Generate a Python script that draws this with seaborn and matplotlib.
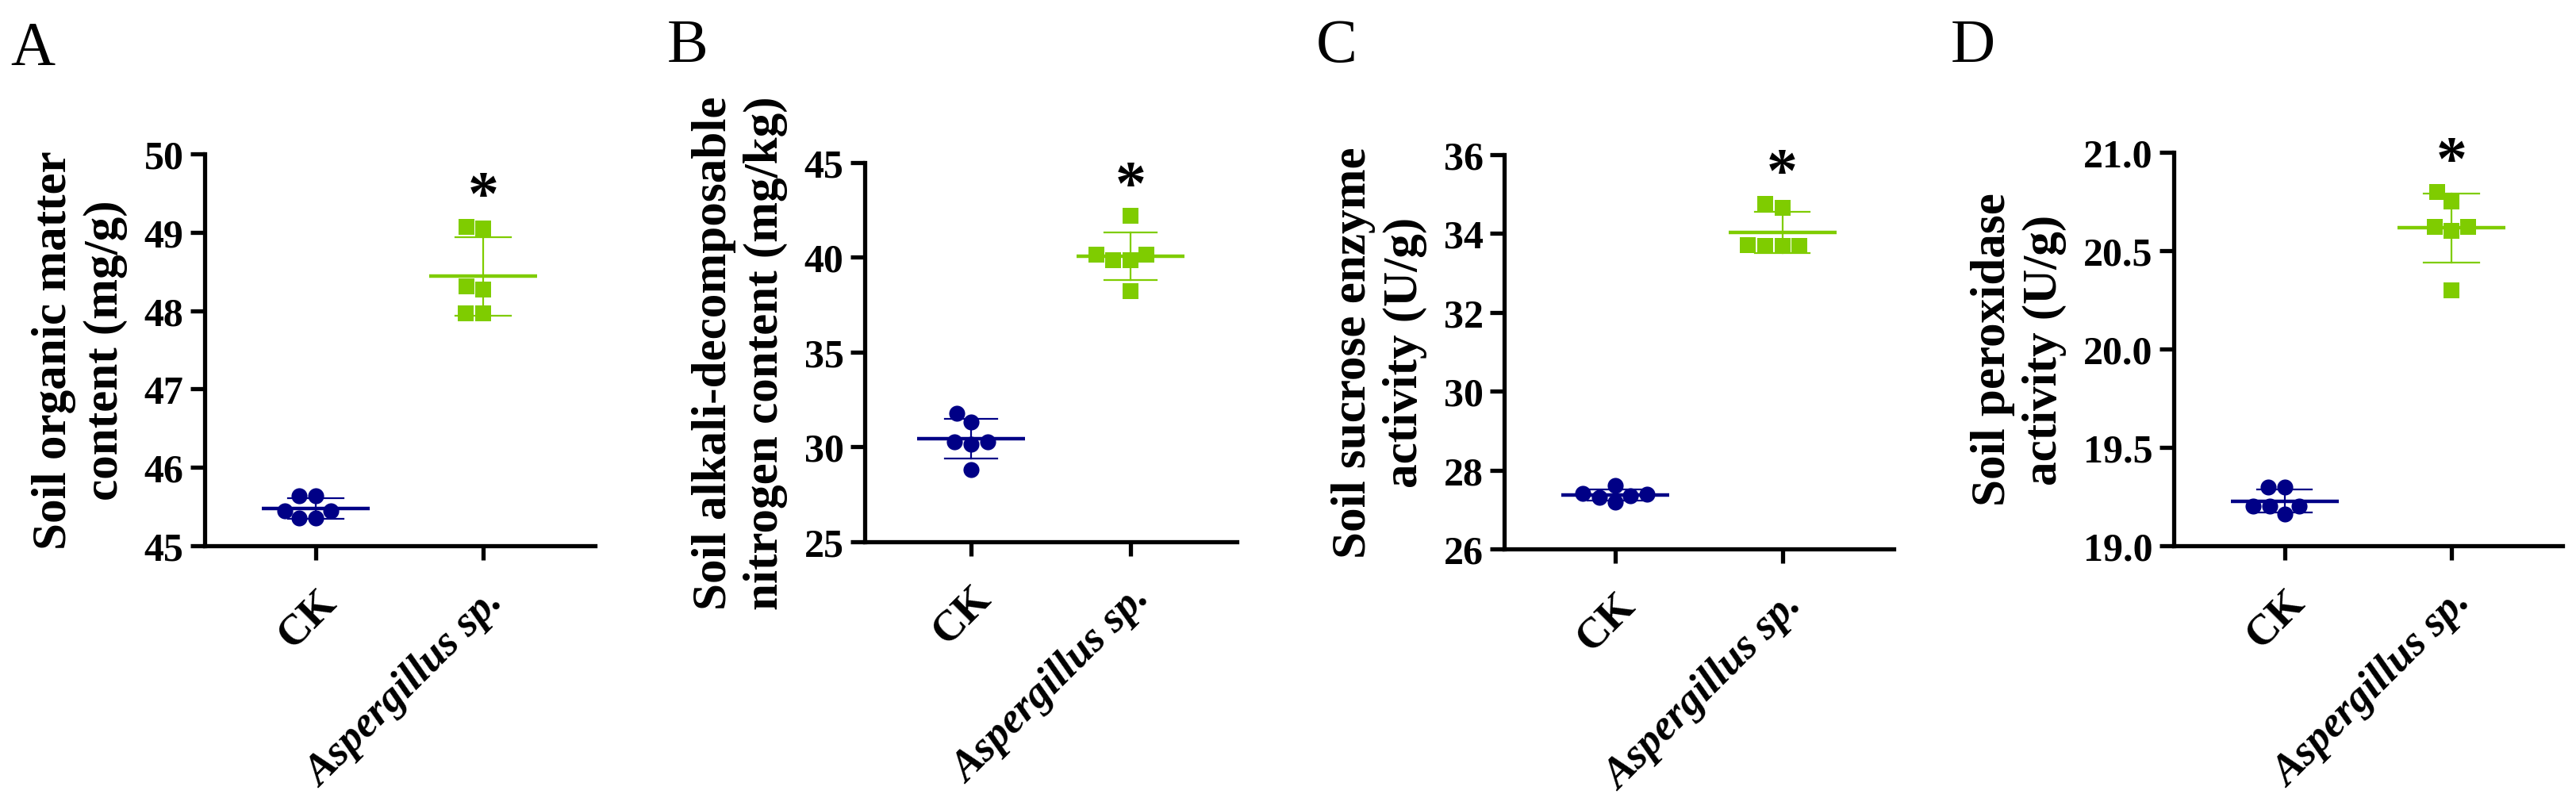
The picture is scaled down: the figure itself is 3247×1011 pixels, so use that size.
import pandas as pd
import matplotlib
matplotlib.use('Agg')
import matplotlib.pyplot as plt
import seaborn as sns

groups = ['CK', 'Aspergillus sp.']

# A: soil organic matter content (mg/g)
om_ck = [45.64, 45.45, 45.45, 45.64, 45.35, 45.35]
om_asp = [49.05, 49.07, 48.27, 48.31, 47.97, 47.97]
# B: alkali-decomposable nitrogen (mg/kg)
an_ck = [31.32, 31.78, 30.29, 30.29, 30.15, 28.80]
an_asp = [40.14, 40.14, 42.18, 39.85, 39.85, 38.21]
# C: sucrose enzyme activity (U/g)
suc_ck = [27.41, 27.38, 27.35, 27.61, 27.31, 27.18]
suc_asp = [34.66, 34.76, 33.70, 33.68, 33.68, 33.68]
# D: peroxidase activity (U/g)
pod_ck = [19.20, 19.30, 19.20, 19.30, 19.20, 19.16]
pod_asp = [20.62, 20.75, 20.62, 20.80, 20.60, 20.30]

letters = ['A', 'B', 'C', 'D']
ylabels = ['Soil organic matter\ncontent (mg/g)',
           'Soil alkali-decomposable\nnitrogen content (mg/kg)',
           'Soil sucrose enzyme\nactivity (U/g)',
           'Soil peroxidase\nactivity (U/g)']
yticks_a = [45, 46, 47, 48, 49, 50]
yticks_b = [25, 30, 35, 40, 45]
yticks_c = [26, 28, 30, 32, 34, 36]
yticks_d = [19.0, 19.5, 20.0, 20.5, 21.0]
tick_fmt = ['%d', '%d', '%d', '%.1f']

ck_color = '#000086'
asp_color = '#7FCC00'

W, H = 3247, 1012
# axes boxes in pixels: left, top, right, bottom
boxes = [(258, 195, 750, 689), (1090, 206, 1559, 684),
         (1896, 196, 2387, 693), (2740, 193, 3230, 689)]
letter_xy = [(13, 81), (841, 78), (1659, 78), (2459, 78)]

plt.rcParams['font.family'] = ['Liberation Serif', 'DejaVu Serif']
plt.rcParams['font.weight'] = 'bold'
plt.rcParams['axes.linewidth'] = 3.8


def scatter_panel(ax, ck, asp, ylabel, yticks, fmt):
    df = pd.DataFrame({'group': [groups[0]] * len(ck) + [groups[1]] * len(asp),
                       'value': ck + asp})
    pal = {groups[0]: ck_color, groups[1]: asp_color}
    # mean line + SD error bars
    sns.pointplot(data=df, x='group', y='value', hue='group', order=groups,
                  hue_order=groups, palette=pal, errorbar='sd', capsize=0.33,
                  markers='_', linestyles='none', markersize=98,
                  markeredgewidth=3.2, err_kws={'linewidth': 1.6},
                  legend=False, ax=ax)
    sns.swarmplot(data=df[df['group'] == groups[0]], x='group', y='value',
                  order=groups, color=ck_color, marker='o', size=14.5,
                  linewidth=0, zorder=3, ax=ax)
    sns.swarmplot(data=df[df['group'] == groups[1]], x='group', y='value',
                  order=groups, color=asp_color, marker='s', size=15,
                  linewidth=0, zorder=3, ax=ax)
    ax.annotate('*', xy=(1, max(asp)), xytext=(0, 26), textcoords='offset points',
                ha='center', va='center', fontsize=56, fontweight='bold')

    ax.set_ylim(yticks[0], yticks[-1])
    ax.set_yticks(yticks)
    ax.set_yticklabels([fmt % t for t in yticks])
    ax.set_xlim(-0.665, 1.667)
    ax.set_xticks([0, 1])
    ax.set_xticklabels(groups, rotation=45, ha='right', rotation_mode='anchor')
    ax.get_xticklabels()[1].set_fontstyle('italic')
    ax.tick_params(direction='out', length=13, width=3.8, labelsize=36, pad=6)
    ax.tick_params(axis='x', labelsize=39, pad=20)
    ax.set_xlabel('')
    ax.set_ylabel(ylabel, fontsize=44, fontweight='bold', labelpad=15)
    sns.despine(ax=ax)


fig = plt.figure(figsize=(W / 100, H / 100), dpi=100)

panels = [(om_ck, om_asp, yticks_a), (an_ck, an_asp, yticks_b),
          (suc_ck, suc_asp, yticks_c), (pod_ck, pod_asp, yticks_d)]

for i, (ck, asp, yt) in enumerate(panels):
    l, t, r, b = boxes[i]
    ax = fig.add_axes([l / W, 1 - b / H, (r - l) / W, (b - t) / H])
    scatter_panel(ax, ck, asp, ylabels[i], yt, tick_fmt[i])
    lx, ly = letter_xy[i]
    fig.text(lx / W, 1 - ly / H, letters[i], fontsize=56, fontweight='normal',
             ha='left', va='baseline')

fig.savefig('out.png', dpi=100)
